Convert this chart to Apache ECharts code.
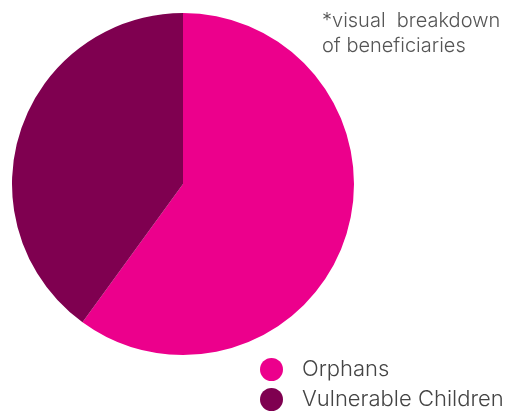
<!DOCTYPE html>
<html>
<head>
<meta charset="utf-8">
<script src="https://cdn.jsdelivr.net/npm/echarts@6/dist/echarts.min.js"></script>
<style>
html, body { margin: 0; padding: 0; background: #fff; }
#chart { width: 522px; height: 412px; }
</style>
</head>
<body>
<div id="chart"></div>
<script>
// Beneficiary groups and their shares
const categories = ['Orphans', 'Vulnerable Children'];
const shares = [60, 40];
const colors = ['#EC008C', '#7F0050'];
const noteLines = ['*visual  breakdown', 'of beneficiaries'];

const chart = echarts.init(document.getElementById('chart'), null, { renderer: 'canvas' });

chart.setOption({
  animation: false,
  backgroundColor: '#ffffff',
  color: colors,
  title: {
    text: noteLines.join('\n'),
    left: 322,
    top: 8,
    padding: 0,
    textStyle: {
      fontFamily: 'Inter',
      fontWeight: 300,
      fontSize: 20,
      color: '#555555',
      lineHeight: 25
    }
  },
  legend: {
    orient: 'vertical',
    left: 260,
    top: 358,
    padding: 0,
    height: 60,
    itemWidth: 23,
    itemHeight: 23,
    itemGap: 7,
    icon: 'circle',
    data: categories,
    textStyle: {
      fontFamily: 'Inter',
      fontWeight: 300,
      fontSize: 22,
      color: '#444444',
      padding: [0, 0, 0, 14]
    }
  },
  series: [{
    type: 'pie',
    center: [183, 184],
    radius: 171,
    startAngle: 90,
    clockwise: true,
    label: { show: false },
    labelLine: { show: false },
    emphasis: { disabled: true },
    data: categories.map((name, i) => ({ name, value: shares[i] }))
  }]
});
</script>
</body>
</html>
